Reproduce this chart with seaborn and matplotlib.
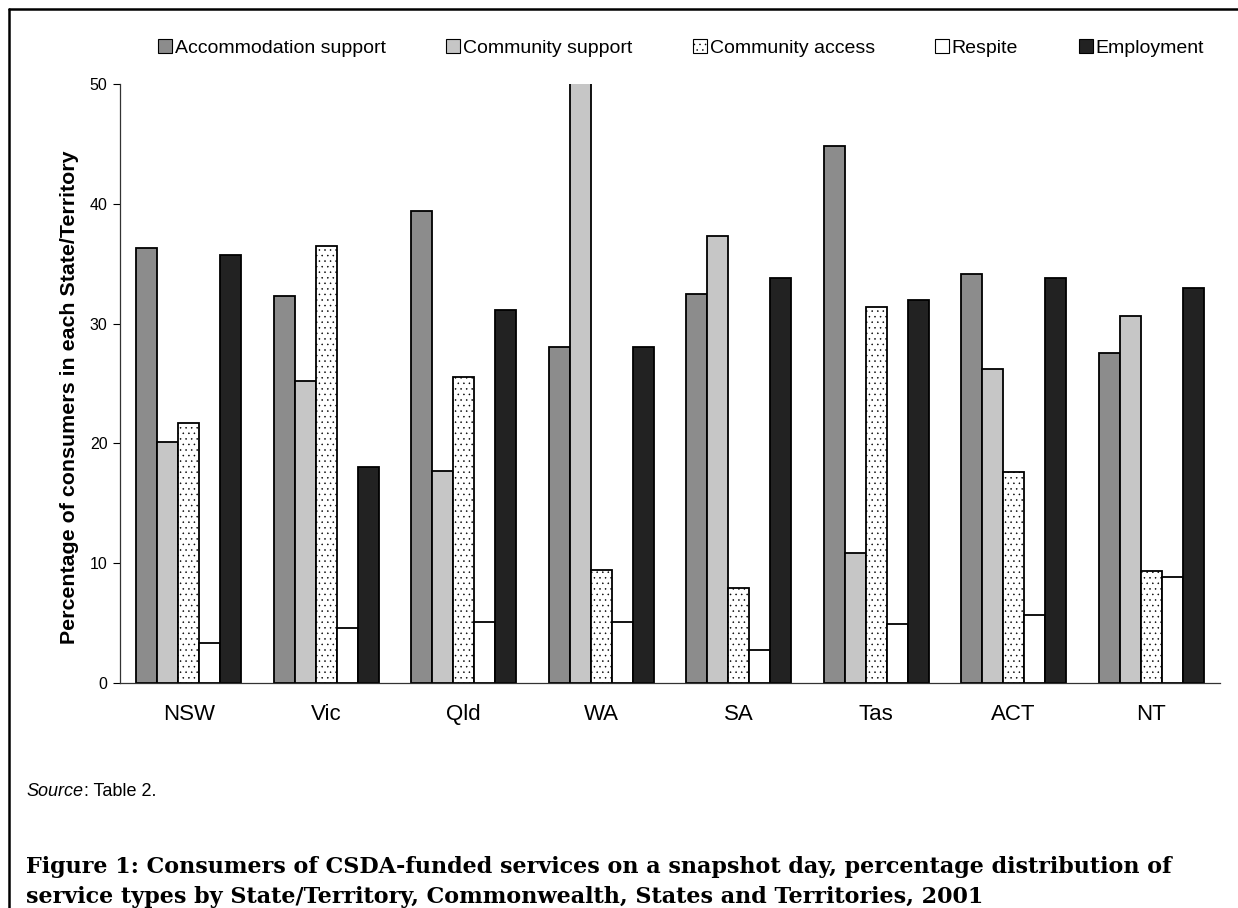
import numpy as np
import pandas as pd
import matplotlib
matplotlib.use("Agg")
import matplotlib.pyplot as plt
from matplotlib.lines import Line2D
import seaborn as sns

# data
states = ["NSW", "Vic", "Qld", "WA", "SA", "Tas", "ACT", "NT"]
services = ["Accommodation support", "Community support", "Community access",
            "Respite", "Employment"]
accommodation = [36.3, 32.3, 39.4, 28.0, 32.5, 44.8, 34.1, 27.5]
community_support = [20.1, 25.2, 17.7, 50.1, 37.3, 10.8, 26.2, 30.6]
community_access = [21.7, 36.5, 25.5, 9.4, 7.9, 31.4, 17.6, 9.3]
respite = [3.3, 4.6, 5.1, 5.1, 2.7, 4.9, 5.7, 8.8]
employment = [35.7, 18.0, 31.1, 28.0, 33.8, 32.0, 33.8, 33.0]

series = [accommodation, community_support, community_access, respite, employment]
df = pd.DataFrame({
    "state": np.tile(states, len(services)),
    "service": np.repeat(services, len(states)),
    "pct": np.concatenate(series),
})

colors = ["#8c8c8c", "#c6c6c6", "#ffffff", "#ffffff", "#222222"]
hatches = ["", "", "...", "", ""]
palette = dict(zip(services, colors))

sns.set_style("white")
plt.rcParams["font.family"] = ["Liberation Sans", "DejaVu Sans"]
plt.rcParams["text.color"] = "black"
plt.rcParams["axes.labelcolor"] = "black"
plt.rcParams["xtick.color"] = "black"
plt.rcParams["ytick.color"] = "black"
plt.rcParams["hatch.linewidth"] = 0.35

fig = plt.figure(figsize=(12.38, 9.08), dpi=100)
ax = fig.add_axes([0.0969, 0.248, 0.8885, 0.6595])

sns.barplot(data=df, x="state", y="pct", hue="service", order=states,
            hue_order=services, palette=palette, width=0.765, gap=0,
            edgecolor="black", linewidth=1.3, saturation=1, ax=ax,
            legend=False)

# fill patterns per service
nst = len(states)
for i, bar in enumerate(ax.patches[:nst * len(services)]):
    bar.set_hatch(hatches[i // nst])

ax.set_ylim(0, 50)
ax.set_yticks([0, 10, 20, 30, 40, 50])
ax.set_xlim(-0.5, len(states) - 0.5)
ax.set_xlabel("")
ax.set_ylabel("Percentage of consumers in each State/Territory",
              fontsize=15.4, fontweight="bold")
ax.yaxis.set_label_coords(-0.037, 0.477)
ax.tick_params(axis="y", length=5, width=0.8, labelsize=11.5, left=True,
               direction="out", pad=4)
ax.tick_params(axis="x", length=0, labelsize=16, pad=15)
for side in ["top", "right"]:
    ax.spines[side].set_visible(False)
for side in ["left", "bottom"]:
    ax.spines[side].set_color("#333333")
    ax.spines[side].set_linewidth(0.9)

# legend on top
handles = [plt.Rectangle((0, 0), 1, 1, facecolor=c, edgecolor="black",
                         hatch=h, linewidth=0.8)
           for c, h in zip(colors, hatches)]
fig.legend(handles, services, loc="center", bbox_to_anchor=(0.55, 0.947),
           ncol=5, frameon=False, fontsize=14, handlelength=0.72,
           handleheight=0.72, handletextpad=0.15, columnspacing=3.1)

# source and caption
src = fig.text(0.0215, 1 - 792 / 908, "Source", fontsize=13, style="italic",
               va="center")
ax.annotate(": Table 2.", xy=(1, 0), xycoords=src, va="bottom",
            fontsize=13)
fig.text(0.021, 1 - 873 / 908,
         "Figure 1: Consumers of CSDA-funded services on a snapshot day, "
         "percentage distribution of",
         family="DejaVu Serif", fontweight="bold", fontsize=16,
         va="baseline")
fig.text(0.021, 1 - 903 / 908,
         "service types by State/Territory, Commonwealth, States and "
         "Territories, 2001",
         family="DejaVu Serif", fontweight="bold", fontsize=16,
         va="baseline")

# border lines of the original page frame
fig.add_artist(Line2D([0.0072, 0.0072], [0, 0.99], transform=fig.transFigure,
                      color="black", linewidth=1.8))
fig.add_artist(Line2D([0.0072, 1.0], [0.99, 0.99], transform=fig.transFigure,
                      color="black", linewidth=1.8))

fig.savefig("out.png", dpi=100)
